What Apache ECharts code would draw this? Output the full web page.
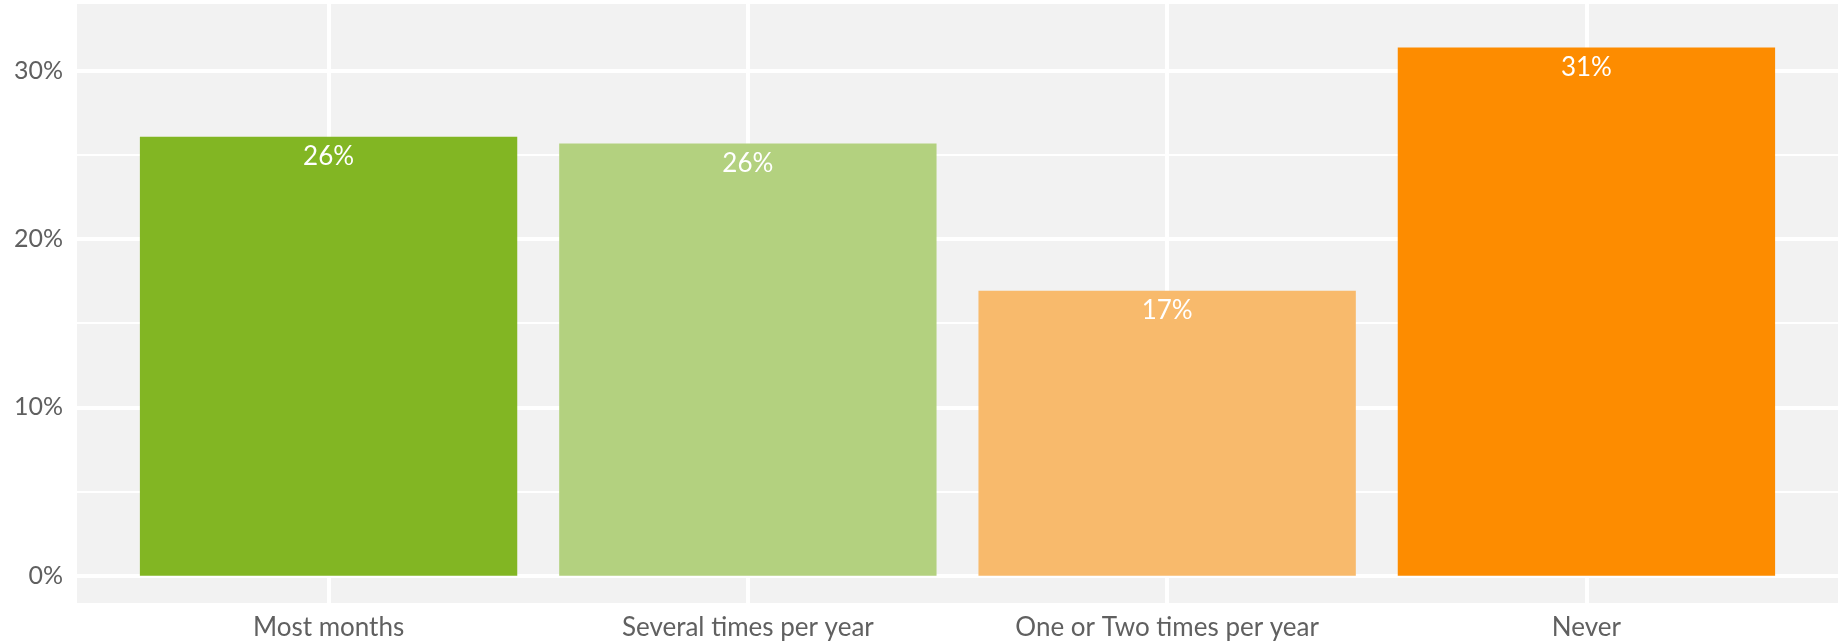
<!DOCTYPE html>
<html><head><meta charset="utf-8">
<script src="https://cdn.jsdelivr.net/npm/echarts@6/dist/echarts.min.js"></script>
<style>html,body{margin:0;padding:0;background:#fff}#c{width:1841px;height:642px}</style>
</head><body><div id="c"></div>
<script>
const categories = ['Most months', 'Several times per year', 'One or Two times per year', 'Never'];
const values = [26.07, 25.68, 16.92, 31.38];
const barColors = ['#82b623', '#b3d17f', '#f8ba6c', '#fd8c00'];
const yTickValues = [0, 10, 20, 30];
const yMin = -1.62, yMax = 33.96;
const xMin = 0.4, xMax = 4.6;

const chart = echarts.init(document.getElementById('c'), null, {renderer: 'canvas'});
const font = 'Lato, "Noto Sans", sans-serif';
chart.setOption({
  animation: false,
  backgroundColor: '#ffffff',
  grid: {left: 77, right: 2, top: 4, bottom: 39, show: true, backgroundColor: '#f2f2f2', borderWidth: 0},
  xAxis: {
    type: 'value', min: xMin, max: xMax, splitNumber: 4,
    axisLine: {show: false}, axisTick: {show: false},
    axisLabel: {
      formatter: v => (Number.isInteger(v) && v >= 1 && v <= categories.length) ? categories[v - 1] : '',
      fontFamily: font, fontSize: 26, color: '#606060', margin: 12
    },
    splitLine: {show: true, showMinLine: false, showMaxLine: false, lineStyle: {color: '#ffffff', width: 4}}
  },
  yAxis: [
    {
      type: 'value', min: yMin, max: yMax, splitNumber: 4,
      axisLine: {show: false}, axisTick: {show: false},
      axisLabel: {
        formatter: v => yTickValues.includes(v) ? v + '%' : '',
        fontFamily: font, fontSize: 25, color: '#606060', margin: 14
      },
      splitLine: {show: true, showMinLine: false, showMaxLine: false, lineStyle: {color: '#ffffff', width: 4}}
    },
    {
      type: 'value', min: yMin, max: yMax, splitNumber: 7, position: 'left',
      axisLine: {show: false}, axisTick: {show: false}, axisLabel: {show: false},
      splitLine: {show: true, showMinLine: false, showMaxLine: false, lineStyle: {color: '#ffffff', width: 2}}
    }
  ],
  series: [{
    type: 'bar', yAxisIndex: 0, barWidth: '90%',
    data: values.map((v, i) => ({value: [i + 1, v], itemStyle: {color: barColors[i]}})),
    label: {
      show: true, position: 'insideTop', distance: 7,
      formatter: p => Math.round(p.value[1]) + '%',
      color: '#ffffff', fontFamily: font, fontSize: 26
    }
  }]
});
</script></body></html>
